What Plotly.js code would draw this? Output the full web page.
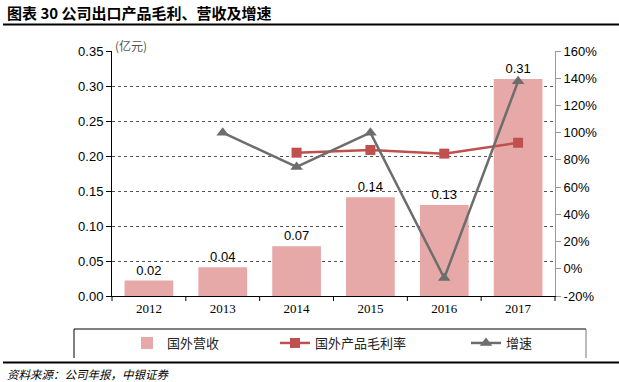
<!DOCTYPE html>
<html>
<head>
<meta charset="utf-8">
<script src="https://cdn.plot.ly/plotly-3.0.1.min.js"></script>
<style>html,body{margin:0;padding:0;background:#fff;}#chart{width:619px;height:382px;}</style>
</head>
<body>
<div id="chart"></div>
<script>
const years = ['2012', '2013', '2014', '2015', '2016', '2017'];
const revenue = [0.022, 0.041, 0.071, 0.141, 0.130, 0.310];
const marginRate = [null, null, 85.3, 87.3, 84.6, 92.6];
const growth = [null, 100, 74.8, 100, -6.8, 137.7];
const leftTicks = [0, 0.05, 0.10, 0.15, 0.20, 0.25, 0.30, 0.35];
const rightTicks = [-20, 0, 20, 40, 60, 80, 100, 120, 140, 160];

const sans = 'Liberation Sans, Arial, sans-serif';
const serif = 'Liberation Serif, Times New Roman, serif';
const cjk = 'Noto Sans CJK SC, sans-serif';

const W = 619, H = 382;
const L = 112, R = 555, T = 51, B = 296;
const px = x => (x - L) / (R - L);
const py = y => (B - y) / (B - T);

const traces = [
  {
    type: 'bar', name: '国外营收', x: years, y: revenue, legend: 'legend',
    marker: {color: '#E6A9A8'},
    texttemplate: '%{y:.2f}', textposition: 'outside', cliponaxis: false,
    textfont: {family: sans, size: 13, color: '#000'},
    hoverinfo: 'skip'
  },
  {
    type: 'scatter', mode: 'lines+markers', name: '国外产品毛利率', x: years, y: marginRate,
    yaxis: 'y2', legend: 'legend2', line: {color: '#C0504D', width: 2.5},
    marker: {symbol: 'square', size: 10, color: '#C0504D'}
  },
  {
    type: 'scatter', mode: 'lines+markers', name: '增速', x: years, y: growth,
    yaxis: 'y2', legend: 'legend3', line: {color: '#6D6D6D', width: 2.5},
    marker: {symbol: 'triangle-up', size: 11, color: '#6D6D6D'}
  }
];

function leg(xpx) {
  return {
    xref: 'container', yref: 'container', x: xpx / W, y: 1 - 343 / H,
    xanchor: 'left', yanchor: 'middle', orientation: 'h',
    bgcolor: 'rgba(0,0,0,0)', borderwidth: 0,
    font: {family: cjk, size: 13, color: '#222'}
  };
}

const layout = {
  width: W, height: H,
  margin: {l: L, r: W - R, t: T, b: H - B, autoexpand: false},
  paper_bgcolor: '#fff', plot_bgcolor: '#fff',
  bargap: 0.34,
  showlegend: true,
  legend: leg(127),
  legend2: leg(275),
  legend3: leg(466),
  xaxis: {
    type: 'category', showline: true, linecolor: '#000', linewidth: 1,
    ticks: '', tickfont: {family: serif, size: 13, color: '#000'},
    showgrid: false, zeroline: false
  },
  yaxis: {
    range: [0, 0.35], tickvals: leftTicks, ticktext: leftTicks.map(v => v.toFixed(2)),
    showline: true, linecolor: '#000', linewidth: 1,
    ticks: 'outside', ticklen: 5, tickcolor: '#000',
    tickfont: {family: sans, size: 13, color: '#000'},
    showgrid: true, gridcolor: '#555', griddash: 'dot', gridwidth: 1,
    zeroline: false
  },
  yaxis2: {
    overlaying: 'y', side: 'right', range: [-20, 160],
    tickvals: rightTicks, ticktext: rightTicks.map(v => v + '%'),
    showline: true, linecolor: '#999', linewidth: 1,
    ticks: 'outside', ticklen: 5, tickcolor: '#999',
    tickfont: {family: sans, size: 13, color: '#000'},
    showgrid: false, zeroline: false
  },
  shapes: [
    {type: 'line', xref: 'paper', yref: 'paper', x0: px(3), x1: px(619), y0: py(24.5), y1: py(24.5), line: {color: '#000', width: 2}},
    {type: 'line', xref: 'paper', yref: 'paper', x0: px(3), x1: px(619), y0: py(362.5), y1: py(362.5), line: {color: '#000', width: 2}},
    {type: 'line', xref: 'paper', yref: 'paper', x0: px(74), x1: px(586), y0: py(329), y1: py(329), line: {color: '#000', width: 1}},
    {type: 'line', xref: 'paper', yref: 'paper', x0: px(74), x1: px(74), y0: py(329), y1: py(358), line: {color: '#000', width: 1}},
    {type: 'line', xref: 'paper', yref: 'paper', x0: px(586), x1: px(586), y0: py(329), y1: py(358), line: {color: '#777', width: 1}}
  ],
  annotations: [
    {text: '图表 30 公司出口产品毛利、营收及增速', xref: 'paper', yref: 'paper', x: px(5), y: py(12),
     xanchor: 'left', yanchor: 'middle', showarrow: false,
     font: {family: cjk, size: 15, color: '#000', weight: 'bold'}},
    {text: '(亿元)', xref: 'paper', yref: 'paper', x: px(113), y: py(46),
     xanchor: 'left', yanchor: 'middle', showarrow: false,
     font: {family: cjk, size: 12, color: '#555'}},
    {text: '<i>资料来源：公司年报，中银证券</i>', xref: 'paper', yref: 'paper', x: px(5), y: py(373.5),
     xanchor: 'left', yanchor: 'middle', showarrow: false,
     font: {family: cjk, size: 11.5, color: '#000'}}
  ]
};

for (let i = 0; i <= years.length; i++) {
  layout.shapes.push({type: 'line', xref: 'paper', yref: 'paper', x0: i / years.length, x1: i / years.length, y0: 0, y1: py(301), line: {color: '#000', width: 1}});
}

Plotly.newPlot('chart', traces, layout, {displayModeBar: false, staticPlot: true});
</script>
</body>
</html>
